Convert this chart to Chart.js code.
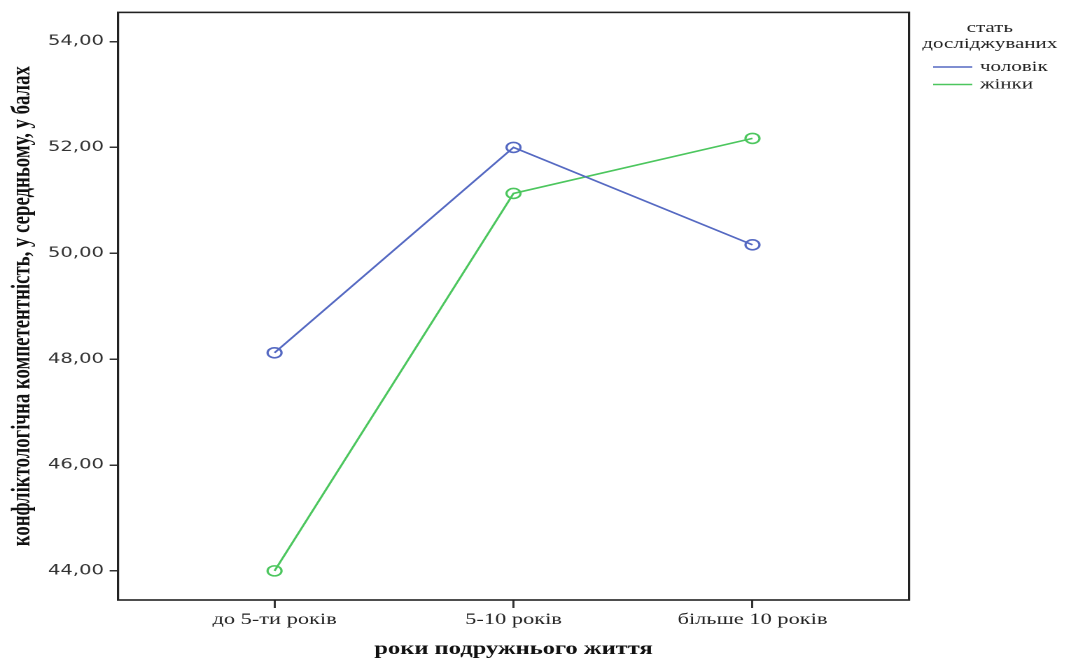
<!DOCTYPE html>
<html>
<head>
<meta charset="utf-8">
<script src="https://cdn.jsdelivr.net/npm/chart.js@4"></script>
<style>
    html, body { margin: 0; padding: 0; background: #fff; overflow: hidden; }
    /* the reference is drawn wide: render narrow and stretch horizontally */
    #wrap {
        position: absolute; left: 0; top: 0;
        width: 761.43px; height: 660px;
        transform: scaleX(1.4); transform-origin: 0 0;
    }
</style>
</head>
<body>
<div id="wrap"><canvas id="chart"></canvas></div>
<script>
const categories = ['до 5-ти років', '5-10 років', 'більше 10 років'];
const maleValues = [48.12, 52.00, 50.16];
const femaleValues = [44.00, 51.13, 52.17];
const yTicks = [44, 46, 48, 50, 52, 54];
const seriesNames = ['чоловік', 'жінки'];
const legendTitle = ['стать', 'досліджуваних'];

const BLUE = '#5569c2';
const GREEN = '#4cc65e';

// Frame around the plot area
const framePlugin = {
    id: 'frame',
    afterDraw(chart) {
        const { ctx, chartArea: a } = chart;
        ctx.save();
        ctx.strokeStyle = '#222';
        ctx.lineWidth = 1.6;
        ctx.strokeRect(a.left, a.top, a.right - a.left, a.bottom - a.top);
        ctx.restore();
    }
};

// SPSS style legend on the right
const legendPlugin = {
    id: 'sideLegend',
    afterDraw(chart) {
        const ctx = chart.ctx;
        ctx.save();
        ctx.fillStyle = '#222';
        ctx.font = '15px "Liberation Serif", serif';
        ctx.textAlign = 'center';
        ctx.textBaseline = 'middle';
        legendTitle.forEach((t, i) => ctx.fillText(t, 707, 28 + i * 16));

        ctx.textAlign = 'left';
        chart.data.datasets.forEach((ds, i) => {
            const y = 67 + i * 17.5;
            ctx.strokeStyle = ds.borderColor;
            ctx.lineWidth = 1.6;
            ctx.beginPath();
            ctx.moveTo(666.5, y);
            ctx.lineTo(694.5, y);
            ctx.stroke();
            ctx.fillStyle = '#222';
            ctx.fillText(ds.label, 700, y);
        });
        ctx.restore();
    }
};

const toPoints = vals => vals.map((v, i) => ({ x: i, y: v }));

new Chart(document.getElementById('chart'), {
    type: 'line',
    data: {
        datasets: [{
            label: seriesNames[0],
            data: toPoints(maleValues),
            borderColor: BLUE,
            pointBorderColor: BLUE,
            pointBackgroundColor: 'rgba(0,0,0,0)',
            borderWidth: 1.6,
            pointRadius: 5,
            pointBorderWidth: 1.6,
            tension: 0
        }, {
            label: seriesNames[1],
            data: toPoints(femaleValues),
            borderColor: GREEN,
            pointBorderColor: GREEN,
            pointBackgroundColor: 'rgba(0,0,0,0)',
            borderWidth: 1.6,
            pointRadius: 5,
            pointBorderWidth: 1.6,
            tension: 0
        }]
    },
    options: {
        responsive: true,
        maintainAspectRatio: false,
        animation: false,
        devicePixelRatio: 2,
        layout: { padding: { left: 0, right: 112.1, top: 10, bottom: 0 } },
        plugins: {
            legend: { display: false },
            tooltip: { enabled: false }
        },
        scales: {
            x: {
                type: 'linear',
                min: -0.655,
                max: 2.655,
                afterBuildTicks: axis => { axis.ticks = categories.map((c, i) => ({ value: i })); },
                afterFit: axis => { axis.height = 60; },
                border: { display: false },
                grid: {
                    drawOnChartArea: false,
                    drawTicks: true,
                    tickLength: 8,
                    color: '#333',
                    lineWidth: 1.5
                },
                ticks: {
                    callback: v => categories[v],
                    color: '#222',
                    padding: 2,
                    maxRotation: 0,
                    font: { family: '"Liberation Serif", serif', size: 16 }
                },
                title: {
                    display: true,
                    text: 'роки подружнього життя',
                    color: '#111',
                    padding: { top: 0, bottom: 0 },
                    font: { family: '"Liberation Serif", serif', size: 17.5, weight: 'bold' }
                }
            },
            y: {
                min: 43.45,
                max: 54.55,
                afterBuildTicks: axis => { axis.ticks = yTicks.map(v => ({ value: v })); },
                afterFit: axis => { axis.width = 84.3; },
                border: { display: false },
                grid: {
                    drawOnChartArea: false,
                    drawTicks: true,
                    tickLength: 6,
                    color: '#333',
                    lineWidth: 1.5
                },
                ticks: {
                    callback: v => v.toFixed(2).replace('.', ','),
                    color: '#333',
                    padding: 4,
                    font: { family: '"DejaVu Sans", sans-serif', size: 14 }
                },
                title: {
                    display: true,
                    text: 'конфліктологічна компетентність, у середньому, у балах',
                    color: '#111',
                    padding: { top: 5, bottom: 0 },
                    font: { family: '"Liberation Serif", serif', size: 18.8, weight: 'bold' }
                }
            }
        }
    },
    plugins: [framePlugin, legendPlugin]
});
</script>
</body>
</html>
